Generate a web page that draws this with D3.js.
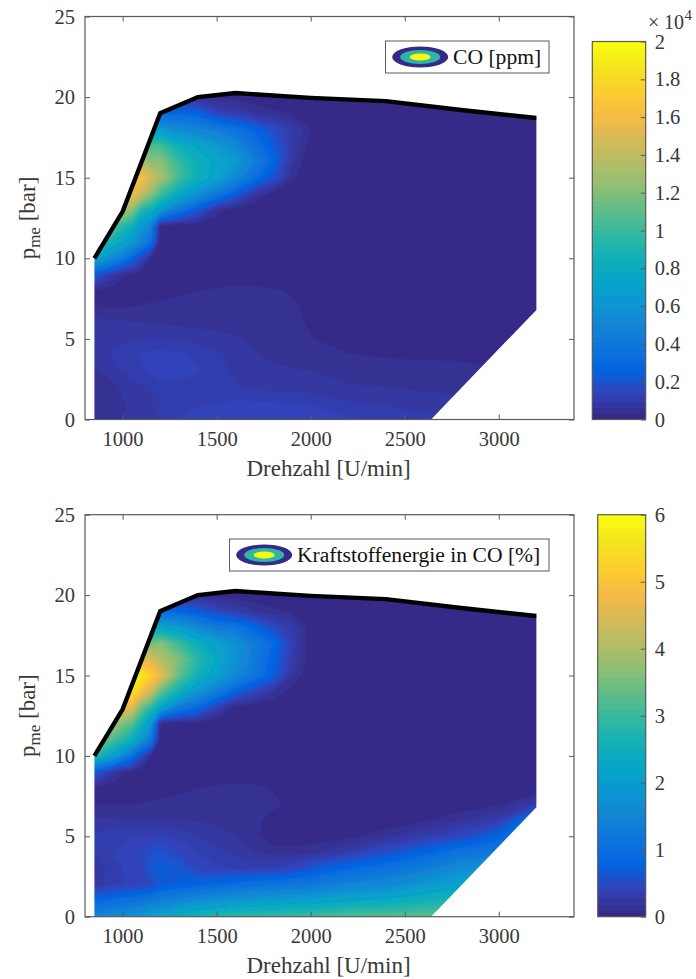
<!DOCTYPE html>
<html>
<head>
<meta charset="utf-8">
<script src="https://cdn.jsdelivr.net/npm/d3@7"></script>
<style>
  body { margin: 0; background: #fff; }
  text { font-family: "Liberation Serif", serif; }
</style>
</head>
<body>
<script>
// Grid nodes of the engine map (speed in U/min, load in bar)
var speedNodes = [850, 950, 1050, 1100, 1150, 1200, 1300, 1400, 1500, 1600, 1700, 1800, 1900, 2000, 2200, 2400, 2600, 2800, 3000, 3200];
var loadNodes = [0, 1, 2, 3, 4, 5, 6, 7, 8, 9, 10, 11, 12, 13, 14, 15, 16, 17, 18, 19, 20, 21];

// Full load curve
var fullLoadSpeed = [850, 1000, 1200, 1400, 1600, 2000, 2400, 2800, 3200];
var fullLoadPme = [10, 12.9, 19, 20, 20.25, 19.95, 19.75, 19.2, 18.7];

// Rest of the map outline, going back from the end of the full load curve
var outlineSpeed = [3200, 2640, 850];
var outlinePme = [6.8, 0, 0];

// CO in 10^4 ppm, one row per load node, one column per speed node
var coValues = [
  [.038,.05,.072,.078,.088,.1,.125,.138,.144,.15,.15,.15,.15,.15,.128,.116,.106,.094,.081,.069],
  [.038,.05,.069,.078,.084,.094,.116,.122,.125,.131,.131,.131,.128,.122,.097,.091,.081,.075,.063,.056],
  [.041,.056,.078,.091,.1,.119,.116,.113,.109,.097,.088,.081,.078,.075,.066,.063,.056,.053,.05,.044],
  [.056,.078,.109,.122,.131,.134,.134,.128,.103,.088,.075,.069,.066,.063,.05,.047,.044,.041,.034,.031],
  [.078,.1,.122,.128,.134,.138,.131,.119,.1,.081,.066,.056,.05,.044,.034,.028,.026,.025,.019,.013],
  [.081,.084,.091,.094,.095,.097,.091,.081,.072,.066,.056,.05,.044,.033,.013,.003,0,0,0,0],
  [.075,.069,.066,.063,.061,.059,.056,.053,.053,.05,.047,.044,.038,.028,.006,0,0,0,0,0],
  [.03,.03,.031,.034,.038,.041,.044,.047,.05,.053,.053,.05,.044,.013,0,0,0,0,0,0],
  [.031,.013,.013,.013,.013,.013,.025,.031,.038,.044,.044,.038,.025,0,0,0,0,0,0,0],
  [.25,.08,.013,0,0,0,0,0,0,.006,0,0,0,0,0,0,0,0,0,0],
  [.75,.55,.3,.15,.03,0,0,0,0,0,0,0,0,0,0,0,0,0,0,0],
  [.95,.85,.65,.5,.35,0,0,0,0,0,0,0,0,0,0,0,0,0,0,0],
  [1.15,1.1,.85,.65,.5,0,0,0,0,0,0,0,0,0,0,0,0,0,0,0],
  [1.4,1.4,1.25,.95,.85,.65,.4,.22,.05,0,0,0,0,0,0,0,0,0,0,0],
  [1.6,1.6,1.6,1.45,1.25,1.05,.8,.6,.42,.25,.08,.01,0,0,0,0,0,0,0,0],
  [1.7,1.7,1.7,1.65,1.5,1.35,1.05,.85,.72,.55,.35,.2,.04,0,0,0,0,0,0,0],
  [1.5,1.5,1.4,1.35,1.25,1.25,1,.85,.75,.65,.47,.28,.07,0,0,0,0,0,0,0],
  [1.1,1.1,1.05,1,1.05,1.05,.85,.75,.65,.55,.38,.24,.1,.02,0,0,0,0,0,0],
  [.7,.7,.7,.7,.65,.65,.55,.5,.45,.38,.28,.18,.1,.03,0,0,0,0,0,0],
  [.3,.3,.3,.3,.3,.3,.3,.27,.14,.1,.06,.04,.03,.01,0,0,0,0,0,0],
  [0,0,0,0,.05,.05,.05,.04,.03,.02,.01,0,0,0,0,0,0,0,0,0],
  [0,0,0,0,0,0,0,0,0,0,0,0,0,0,0,0,0,0,0,0]
];

// Fuel energy in CO in %, same layout
var energyValues = [
  [1.55,1.7,1.85,1.95,2.1,2.2,2.5,2.7,2.9,3,3,3,3.1,3.1,3.3,3.3,3.4,3.4,3.4,3.4],
  [.9,1,1.1,1.2,1.3,1.4,1.55,1.7,1.8,1.9,1.95,2,2.05,2.1,2.3,2.4,2.6,2.8,2.9,3],
  [.238,.344,.406,.44,.47,.65,.74,.83,.92,1,1.1,1.15,1.2,1.25,1.5,1.6,1.9,2.2,2.4,2.6],
  [.175,.344,.406,.44,.65,.71,.65,.44,.388,.375,.363,.375,.44,.65,.92,1.1,1.35,1.7,1.9,2.1],
  [.281,.375,.45,.47,.56,.6,.47,.375,.313,.25,.188,.156,.15,.156,.313,.56,.83,1.15,1.25,1.7],
  [.313,.344,.375,.375,.388,.388,.344,.281,.225,.188,.125,.02,.013,.03,.063,.156,.313,.47,.83,1.5],
  [.206,.2,.194,.188,.188,.188,.188,.181,.169,.163,.125,.05,.013,0,0,.025,.075,.175,.313,1.2],
  [.088,.088,.094,.1,.113,.119,.131,.144,.156,.169,.156,.125,.063,.013,0,0,0,.02,.081,.3],
  [.094,.038,.038,.038,.038,.044,.069,.094,.119,.131,.125,.081,0,0,0,0,0,0,0,0],
  [.75,.22,.04,0,0,0,0,0,0,0,0,0,0,0,0,0,0,0,0,0],
  [2.9,2.1,1.1,.5,.1,0,0,0,0,0,0,0,0,0,0,0,0,0,0,0],
  [3.6,3.2,2.5,1.9,1.3,0,0,0,0,0,0,0,0,0,0,0,0,0,0,0],
  [4.2,4,3.3,2.6,1.9,0,0,0,0,0,0,0,0,0,0,0,0,0,0,0],
  [5,5,4.6,3.5,2.9,2.3,1.3,.9,.35,.02,0,0,0,0,0,0,0,0,0,0],
  [5.8,5.8,5.7,5,4.4,3.4,2.6,1.9,1.4,.8,.45,.2,.05,0,0,0,0,0,0,0],
  [6,6,6,5.8,5.3,4.8,3.4,2.6,2.1,1.6,1.2,.75,.2,0,0,0,0,0,0,0],
  [5,5,4.6,4.6,4.6,4.2,3.6,2.9,2.3,1.8,1.3,.8,.3,.03,0,0,0,0,0,0],
  [3.5,3.5,3.4,3.4,3.5,3.7,3.1,2.5,2.15,1.8,1.3,.95,.35,.03,0,0,0,0,0,0],
  [2.2,2.2,2.2,2.2,2.2,2.2,2,1.6,1.3,1.2,.85,.5,.3,.03,0,0,0,0,0,0],
  [1,1,1,1,.95,.95,.85,.7,.45,.3,.2,.12,.08,.02,0,0,0,0,0,0],
  [0,0,0,0,.12,.12,.12,.09,.06,.03,0,0,0,0,0,0,0,0,0,0],
  [0,0,0,0,0,0,0,0,0,0,0,0,0,0,0,0,0,0,0,0]
];

// Axis ticks
var speedTicks = [1000, 1500, 2000, 2500, 3000];
var pmeTicks = [0, 5, 10, 15, 20, 25];
var coTicks = [0, .2, .4, .6, .8, 1, 1.2, 1.4, 1.6, 1.8, 2];
var energyTicks = [0, 1, 2, 3, 4, 5, 6];

// Parula colormap, sampled
var parulaStops = ["#352a87", "#3243ba", "#0363e1", "#0d75dc", "#1485d4", "#0998d1", "#06a7c6", "#15b1b4", "#38b99e",
  "#65be86", "#92bf73", "#b7bd64", "#d9ba56", "#f8bb44", "#fcce2e", "#f5e41d", "#f9fb0e"];
var parula = d3.piecewise(d3.interpolateRgb, parulaStops);

var axisColor = "#5a5a5a",
    textColor = "#383838";

var svg = d3.select("body")
    .append("svg")
    .attr("width", 696)
    .attr("height", 979)
    .style("display", "block");

// The reference is a slightly soft raster, so the contour bands get a small blur
svg.append("filter")
    .attr("id", "soft")
    .append("feGaussianBlur")
    .attr("stdDeviation", 0.8);

// Draws one map with its axes, legend and colorbar
function drawPanel(p) {
    var left = 85, right = 574;

    var x = d3.scaleLinear().domain([800, 3400]).range([left, right]);
    var y = d3.scaleLinear().domain([0, 25]).range([p.bottom, p.top]);

    var g = svg.append("g");

    // Outline of the map, used as clip
    var outline = fullLoadSpeed.map(function(d, i) { return [x(d), y(fullLoadPme[i])]; })
        .concat(outlineSpeed.map(function(d, i) { return [x(d), y(outlinePme[i])]; }));

    g.append("clipPath")
        .attr("id", p.id + "-clip")
        .append("polygon")
        .attr("points", outline.join(" "));

    var map = g.append("g")
        .attr("clip-path", "url(#" + p.id + "-clip)")
        .append("g")
        .attr("filter", "url(#soft)");

    // Lowest level fills everything behind the contours
    map.append("rect")
        .attr("x", left).attr("y", p.top)
        .attr("width", right - left).attr("height", p.bottom - p.top)
        .attr("fill", parula(0));

    // Contours are computed on the grid index, then moved to the uneven nodes
    var xIndex = d3.scaleLinear()
        .domain(speedNodes.map(function(d, i) { return i + 0.5; }))
        .range(speedNodes.map(function(d) { return x(d); }));
    var yIndex = d3.scaleLinear()
        .domain(loadNodes.map(function(d, i) { return i + 0.5; }))
        .range(loadNodes.map(function(d) { return y(d); }));

    var path = d3.geoPath(d3.geoTransform({
        point: function(a, b) { this.stream.point(xIndex(a), yIndex(b)); }
    }));

    var levels = d3.range(1, 64).map(function(d) { return d * p.max / 64; });

    var contours = d3.contours()
        .size([speedNodes.length, loadNodes.length])
        .thresholds(levels)
        (d3.merge(p.values));

    map.selectAll("path")
        .data(contours)
        .enter().append("path")
        .attr("d", path)
        .attr("fill", function(d) { return parula(d.value / p.max); });

    // Full load line
    g.append("path")
        .datum(fullLoadSpeed.map(function(d, i) { return [d, fullLoadPme[i]]; }))
        .attr("fill", "none")
        .attr("stroke", "#000")
        .attr("stroke-width", 4.4)
        .attr("stroke-linejoin", "miter")
        .attr("d", d3.line().x(function(d) { return x(d[0]); }).y(function(d) { return y(d[1]); }));

    // Box and ticks, inside on all four sides like the MATLAB axes
    var axes = g.append("g").attr("font-size", 23).attr("fill", textColor);

    axes.append("rect")
        .attr("x", left).attr("y", p.top)
        .attr("width", right - left).attr("height", p.bottom - p.top)
        .attr("fill", "none")
        .attr("stroke", axisColor)
        .attr("stroke-width", 1.2);

    function style(sel) {
        sel.select(".domain").remove();
        sel.selectAll("line").attr("stroke", axisColor);
        sel.selectAll("text")
            .attr("fill", textColor)
            .attr("font-size", 20.5)
            .attr("font-family", '"Liberation Serif", serif');
    }

    axes.append("g").attr("transform", "translate(0," + p.bottom + ")")
        .call(d3.axisBottom(x).tickValues(speedTicks).tickSize(-5).tickPadding(12).tickFormat(d3.format("d")))
        .call(style);
    axes.append("g").attr("transform", "translate(0," + p.top + ")")
        .call(d3.axisTop(x).tickValues(speedTicks).tickSize(-5).tickFormat(""))
        .call(style);
    axes.append("g").attr("transform", "translate(" + left + ",0)")
        .call(d3.axisLeft(y).tickValues(pmeTicks).tickSize(-5).tickPadding(10).tickFormat(d3.format("d")))
        .call(style);
    axes.append("g").attr("transform", "translate(" + right + ",0)")
        .call(d3.axisRight(y).tickValues(pmeTicks).tickSize(-5).tickFormat(""))
        .call(style);

    // Axis labels
    axes.append("text")
        .attr("x", (left + right) / 2 - 1)
        .attr("y", p.bottom + 56)
        .attr("text-anchor", "middle")
        .text("Drehzahl [U/min]");

    var yLabel = axes.append("text")
        .attr("transform", "translate(35," + (p.top + p.bottom) / 2 + ") rotate(-90)")
        .attr("text-anchor", "middle");
    yLabel.append("tspan").text("p");
    yLabel.append("tspan").attr("font-size", 17).attr("dy", 5).text("me");
    yLabel.append("tspan").attr("dy", -5).text(" [bar]");

    // Legend
    var lg = g.append("g");
    lg.append("rect")
        .attr("x", p.legendX).attr("y", p.legendY)
        .attr("width", 549 - p.legendX).attr("height", 32)
        .attr("fill", "#fff")
        .attr("stroke", axisColor)
        .attr("stroke-width", 1);
    [[28, 10.5, parula(0)], [20, 7, parula(0.48)], [10.5, 3.6, parula(1)]].forEach(function(e) {
        lg.append("ellipse")
            .attr("cx", p.legendX + 34.7).attr("cy", p.legendY + 16)
            .attr("rx", e[0]).attr("ry", e[1])
            .attr("fill", e[2]);
    });
    lg.append("text")
        .attr("x", p.legendX + 67.5)
        .attr("y", p.legendY + 22.5)
        .attr("font-size", 21.6)
        .attr("fill", "#111")
        .text(p.legend);

    // Colorbar
    var c = d3.scaleLinear().domain([0, p.max]).range([p.bottom, p.barTop]);
    var cb = g.append("g");
    var bins = d3.range(64);
    var binH = (p.bottom - p.barTop) / 64;
    cb.selectAll("rect")
        .data(bins)
        .enter().append("rect")
        .attr("x", p.barLeft)
        .attr("width", 645.7 - p.barLeft)
        .attr("y", function(d) { return p.bottom - (d + 1) * binH; })
        .attr("height", binH + 0.4)
        .attr("shape-rendering", "crispEdges")
        .attr("fill", function(d) { return parula(d / 63); });
    cb.append("rect")
        .attr("x", p.barLeft).attr("y", p.barTop)
        .attr("width", 645.7 - p.barLeft).attr("height", p.bottom - p.barTop)
        .attr("fill", "none")
        .attr("stroke", axisColor)
        .attr("stroke-width", 1.2);
    cb.append("g").attr("transform", "translate(645.7,0)")
        .call(d3.axisRight(c).tickValues(p.ticks).tickSize(-5).tickPadding(9).tickFormat(function(d) { return d; }))
        .call(style);
}

drawPanel({
    id: "co", values: coValues, max: 2, ticks: coTicks,
    top: 16.5, bottom: 419.5, barTop: 41.5, barLeft: 592.3,
    legendX: 385.5, legendY: 41, legend: "CO [ppm]"
});

drawPanel({
    id: "energy", values: energyValues, max: 6, ticks: energyTicks,
    top: 514.7, bottom: 916.7, barTop: 514.7, barLeft: 597.7,
    legendX: 229.5, legendY: 539, legend: "Kraftstoffenergie in CO [%]"
});

// Exponent of the upper colorbar
var exponent = svg.append("g")
    .attr("font-size", 20)
    .attr("fill", textColor);
exponent.append("text").attr("x", 648).attr("y", 29).text("\u00d7");
exponent.append("text").attr("x", 664).attr("y", 29).text("10");
exponent.append("text").attr("x", 684.5).attr("y", 20).attr("font-size", 15).text("4");
</script>
</body>
</html>
